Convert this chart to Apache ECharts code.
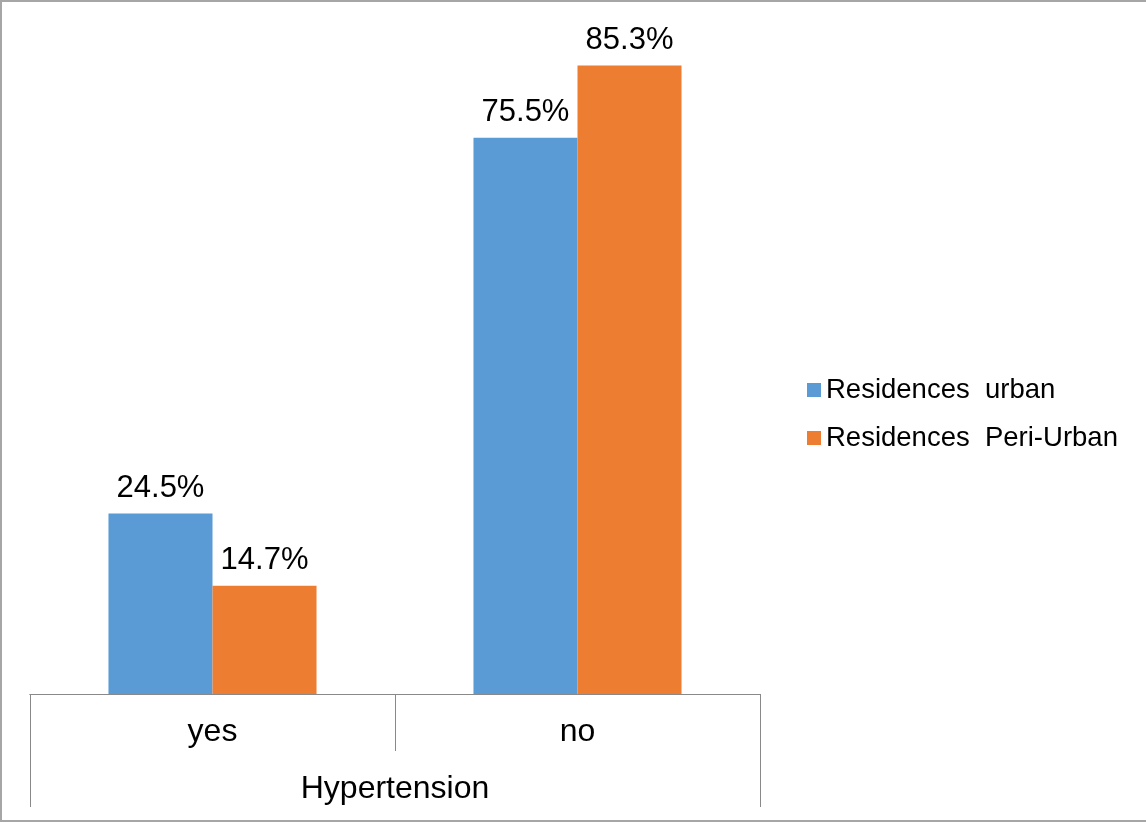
<!DOCTYPE html>
<html>
<head>
<meta charset="utf-8">
<script src="https://cdn.jsdelivr.net/npm/echarts@6/dist/echarts.min.js"></script>
<style>
html,body{margin:0;padding:0;background:#fff;}
#chart{width:1146px;height:823px;}
</style>
</head>
<body>
<div id="chart"></div>
<script>
var categories = ['yes', 'no'];
var groupLabel = ['Hypertension'];
var seriesNames = ['Residences  urban', 'Residences  Peri-Urban'];
var urbanValues = [24.5, 75.5];
var periUrbanValues = [14.7, 85.3];

var FONT = '"Liberation Sans", Arial, sans-serif';
var chart = echarts.init(document.getElementById('chart'), null, {renderer: 'canvas'});

function labelCfg() {
  return {
    show: true,
    position: 'top',
    distance: 10,
    color: '#000',
    fontSize: 31,
    fontFamily: FONT,
    formatter: function (p) { return p.value.toFixed(1) + '%'; }
  };
}

chart.setOption({
  animation: false,
  backgroundColor: '#fff',
  textStyle: {fontFamily: FONT},
  graphic: [{
    type: 'rect',
    shape: {x: 1, y: 1, width: 1160, height: 820},
    style: {fill: 'none', stroke: '#A6A6A6', lineWidth: 2},
    silent: true,
    z: -1
  }],
  grid: {left: 30, right: 386, top: 31, bottom: 129, containLabel: false},
  legend: {
    orient: 'vertical',
    left: 802,
    top: 371,
    itemWidth: 14,
    itemHeight: 14,
    itemGap: 20,
    icon: 'rect',
    textStyle: {fontSize: 27.5, lineHeight: 28, color: '#000', fontFamily: FONT},
    data: seriesNames
  },
  xAxis: [{
    type: 'category',
    data: categories,
    position: 'bottom',
    axisLine: {show: true, lineStyle: {color: '#898989', width: 1}},
    axisTick: {show: true, alignWithLabel: false, length: 57, lineStyle: {color: '#898989'}},
    axisLabel: {fontSize: 32, color: '#000', margin: 22, fontFamily: FONT}
  }, {
    type: 'category',
    data: groupLabel,
    position: 'bottom',
    offset: 0,
    axisLine: {show: true, lineStyle: {color: '#898989', width: 1}},
    axisTick: {show: true, length: 113, lineStyle: {color: '#898989'}},
    axisLabel: {fontSize: 32, color: '#000', margin: 79, fontFamily: FONT}
  }],
  yAxis: {
    type: 'value',
    min: 0,
    max: 90,
    show: false,
    splitLine: {show: false}
  },
  series: [{
    name: seriesNames[0],
    type: 'bar',
    xAxisIndex: 0,
    data: urbanValues,
    itemStyle: {color: '#5B9BD5'},
    barGap: '0%',
    barCategoryGap: '43%',
    label: labelCfg()
  }, {
    name: seriesNames[1],
    type: 'bar',
    xAxisIndex: 0,
    data: periUrbanValues,
    itemStyle: {color: '#ED7D31'},
    barGap: '0%',
    barCategoryGap: '43%',
    label: labelCfg()
  }]
});
</script>
</body>
</html>
